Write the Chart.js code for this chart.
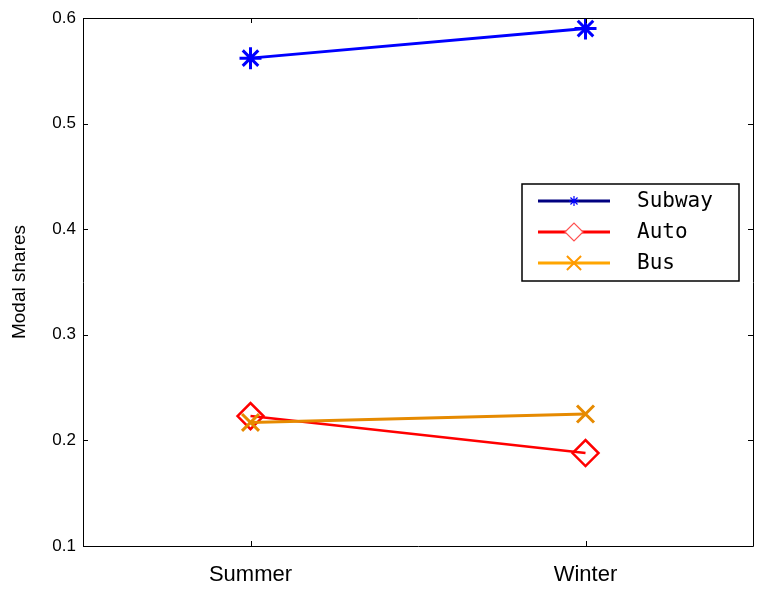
<!DOCTYPE html>
<html>
<head>
<meta charset="utf-8">
<script src="https://cdn.jsdelivr.net/npm/chart.js@4"></script>
<style>
  html, body { margin: 0; padding: 0; background: #fff; }
  canvas { display: block; }
</style>
</head>
<body>
<canvas id="chart" width="759" height="596"></canvas>
<script>
// data
const seasons = ['Summer', 'Winter'];
const subwayShares = [0.562, 0.590];
const autoShares = [0.223, 0.188];
const busShares = [0.217, 0.225];
const yTicks = [0.1, 0.2, 0.3, 0.4, 0.5, 0.6];

function toPoints(values) {
    return values.map(function(v, i) { return { x: i + 1, y: v }; });
}

// box with inward ticks on all four sides, like the original
const framePlugin = {
    id: 'frame',
    afterDatasetsDraw: function(chart) {
        const ctx = chart.ctx;
        const a = chart.chartArea;
        const xs = chart.scales.x, ys = chart.scales.y;
        const tick = 5;
        ctx.save();
        ctx.strokeStyle = '#000';
        ctx.lineWidth = 1;
        ctx.beginPath();
        ctx.rect(a.left + 0.5, a.top + 0.5, a.right - a.left, a.bottom - a.top);
        xs.ticks.forEach(function(t) {
            const px = Math.round(xs.getPixelForValue(t.value)) + 0.5;
            ctx.moveTo(px, a.bottom);
            ctx.lineTo(px, a.bottom - tick);
            ctx.moveTo(px, a.top);
            ctx.lineTo(px, a.top + tick);
        });
        ys.ticks.forEach(function(t) {
            const py = Math.round(ys.getPixelForValue(t.value)) + 0.5;
            ctx.moveTo(a.left, py);
            ctx.lineTo(a.left + tick, py);
            ctx.moveTo(a.right, py);
            ctx.lineTo(a.right - tick, py);
        });
        ctx.stroke();
        ctx.restore();
    }
};

// legend box drawn inside the plot, line with marker in the middle
const boxLegend = {
    id: 'boxLegend',
    afterDraw: function(chart) {
        const ctx = chart.ctx;
        const a = chart.chartArea;
        const w = 217, h = 97;
        const x0 = a.right - 14 - w;
        const y0 = a.top + 166;
        const markerSize = { star: 5, rectRot: 9, crossRot: 10 };
        ctx.save();
        ctx.fillStyle = '#fff';
        ctx.fillRect(x0, y0, w, h);
        ctx.strokeStyle = '#000';
        ctx.lineWidth = 1.5;
        ctx.strokeRect(x0, y0, w, h);
        chart.data.datasets.forEach(function(ds, i) {
            const cy = y0 + 17 + i * 31;
            const lx = x0 + 16;
            const lw = 72;
            const col = ds.legendColor || ds.borderColor;
            ctx.strokeStyle = col;
            ctx.lineWidth = 3;
            ctx.beginPath();
            ctx.moveTo(lx, cy);
            ctx.lineTo(lx + lw, cy);
            ctx.stroke();
            ctx.strokeStyle = ds.legendMarkerColor || col;
            ctx.fillStyle = '#fff';
            ctx.lineWidth = ds.pointStyle === 'crossRot' ? 2 : 1.2;
            Chart.helpers.drawPoint(ctx, {
                pointStyle: ds.pointStyle,
                radius: markerSize[ds.pointStyle],
                rotation: 0,
                borderWidth: ctx.lineWidth
            }, lx + lw / 2, cy);
            ctx.fillStyle = '#000';
            ctx.font = '21px "DejaVu Sans Mono"';
            ctx.textBaseline = 'middle';
            ctx.textAlign = 'left';
            ctx.fillText(ds.label, x0 + 115, cy + 1);
        });
        ctx.restore();
    }
};

const ctx = document.getElementById('chart').getContext('2d');
const chart = new Chart(ctx, {
    type: 'line',
    data: {
        datasets: [{
            label: 'Subway',
            data: toPoints(subwayShares),
            borderColor: '#0000ff',
            legendColor: '#000080',
            legendMarkerColor: '#0000ff',
            backgroundColor: 'transparent',
            borderWidth: 3,
            pointStyle: 'star',
            pointRadius: 11,
            pointBorderWidth: 3,
            order: 2
        }, {
            label: 'Auto',
            data: toPoints(autoShares),
            borderColor: '#ff0000',
            legendMarkerColor: '#ff5050',
            backgroundColor: 'transparent',
            borderWidth: 2.5,
            pointStyle: 'rectRot',
            pointRadius: 13,
            pointBorderWidth: 2.5,
            order: 1
        }, {
            label: 'Bus',
            data: toPoints(busShares),
            borderColor: '#e68a00',
            legendColor: '#ffa500',
            legendMarkerColor: '#ff9900',
            backgroundColor: 'transparent',
            borderWidth: 3,
            pointStyle: 'crossRot',
            pointRadius: 12,
            pointBorderWidth: 3,
            order: 0
        }]
    },
    options: {
        responsive: false,
        animation: false,
        devicePixelRatio: 1,
        layout: {
            autoPadding: false,
            padding: { top: 18, right: 6, left: 0, bottom: 0 }
        },
        plugins: {
            legend: { display: false },
            tooltip: { enabled: false }
        },
        scales: {
            x: {
                type: 'linear',
                min: 0.5,
                max: 2.5,
                grid: { display: false, drawTicks: false },
                border: { display: false },
                afterBuildTicks: function(scale) {
                    scale.ticks = seasons.map(function(s, i) { return { value: i + 1 }; });
                },
                afterFit: function(scale) {
                    scale.height = 50;
                    scale.paddingLeft = 0;
                    scale.paddingRight = 0;
                },
                ticks: {
                    color: '#000',
                    padding: 16,
                    maxRotation: 0,
                    font: { family: '"Liberation Sans"', size: 22 },
                    callback: function(v) { return seasons[v - 1]; }
                }
            },
            y: {
                min: 0.1,
                max: 0.6,
                grid: { display: false, drawTicks: false },
                border: { display: false },
                afterBuildTicks: function(scale) {
                    scale.ticks = yTicks.map(function(v) { return { value: v }; });
                },
                afterFit: function(scale) {
                    scale.width = 83;
                    scale.paddingTop = 0;
                    scale.paddingBottom = 0;
                },
                title: {
                    display: true,
                    text: 'Modal shares',
                    color: '#000',
                    padding: { top: 8, bottom: 0 },
                    font: { family: '"Liberation Sans"', size: 19 }
                },
                ticks: {
                    color: '#000',
                    padding: 7,
                    font: { family: '"Liberation Sans"', size: 17 },
                    callback: function(v) { return v.toFixed(1); }
                }
            }
        }
    },
    plugins: [framePlugin, boxLegend]
});
</script>
</body>
</html>
